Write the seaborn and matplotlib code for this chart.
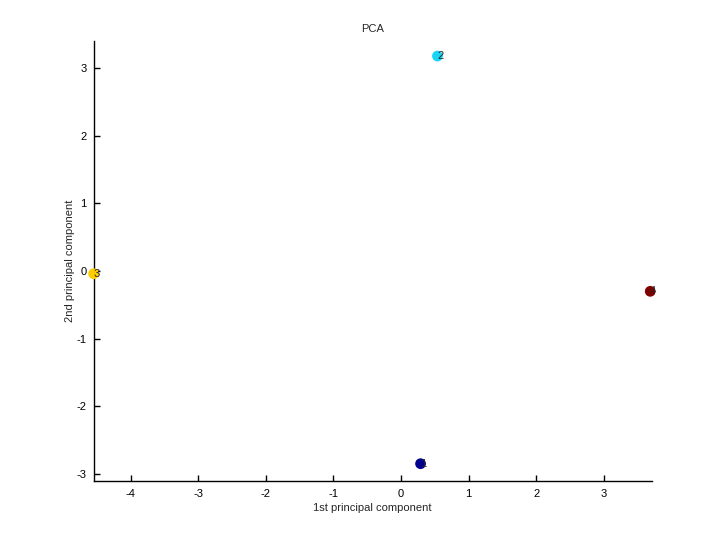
import matplotlib
matplotlib.use('Agg')
import matplotlib.pyplot as plt
import seaborn as sns
import pandas as pd

# PCA scores
labels = ['1', '2', '3', '4']
pc1 = [0.29, 0.54, -4.55, 3.69]
pc2 = [-2.85, 3.18, -0.04, -0.30]
colors = ['#00008f', '#19d4f5', '#ffcc00', '#800000']

df = pd.DataFrame({'pc1': pc1, 'pc2': pc2, 'label': labels})

sns.set_style('ticks')
plt.rcParams['font.family'] = ['Liberation Sans', 'DejaVu Sans']
plt.rcParams['xtick.direction'] = 'in'
plt.rcParams['ytick.direction'] = 'in'
plt.rcParams['axes.unicode_minus'] = False

fig = plt.figure(figsize=(7.2, 5.4), dpi=100)
ax = fig.add_axes([0.13, 0.11, 0.775, 0.815])

sns.scatterplot(data=df, x='pc1', y='pc2', hue='label', palette=colors,
                s=60, edgecolor='none', legend=False, ax=ax, zorder=3,
                clip_on=False)

for x, y, t in zip(pc1, pc2, labels):
    ax.text(x, y, t, fontsize=8, ha='left', va='center', zorder=4)

ax.set_xlim(-4.55, 3.71)
ax.set_ylim(-3.10, 3.41)
ax.set_xticks(range(-4, 4))
ax.set_yticks(range(-3, 4))
ax.tick_params(labelsize=8, length=4, width=1, color='black', labelcolor='black')
ax.tick_params(axis='x', pad=6)
ax.tick_params(axis='y', pad=5)
sns.despine(ax=ax)
for s in ['left', 'bottom']:
    ax.spines[s].set_color('black')
    ax.spines[s].set_linewidth(1)

ax.set_xlabel('1st principal component', fontsize=8, labelpad=3)
ax.set_ylabel('2nd principal component', fontsize=8, labelpad=1)
ax.set_title('PCA', fontsize=8)

fig.savefig('out.png', dpi=100)
